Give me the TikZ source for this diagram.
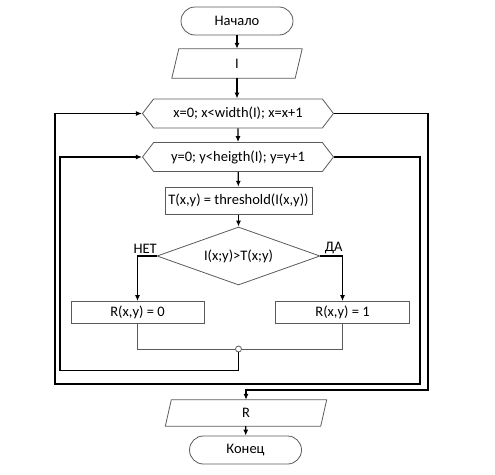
\documentclass[tikz,border=0pt]{standalone}
\usepackage{fontspec}
\setmainfont{Carlito}
\usetikzlibrary{arrows.meta,positioning,shapes.geometric,shapes.symbols}
\definecolor{frame}{RGB}{90,90,90}

\begin{document}
\begin{tikzpicture}[x=1pt,y=-1pt,>={Latex[length=6pt,width=5pt]},
  every node/.style={font=\fontsize{14.5}{17}\selectfont,inner sep=1pt},
  outline/.style={draw=frame,line width=0.8pt},
  term/.style={outline,rounded corners=14pt,minimum width=112pt,minimum height=28pt},
  io/.style={rectangle,minimum width=123pt,minimum height=29pt},
  hexloop/.style={outline,signal,signal to=west and east,signal pointer angle=105,
    minimum width=191pt,minimum height=29pt},
  proc/.style={outline,rectangle,minimum height=22pt},
  cond/.style={outline,diamond,aspect=2.8,inner sep=0pt,minimum width=163pt,minimum height=58pt},
  line/.style={draw,line width=1.3pt},
  joint/.style={draw=frame,line width=0.8pt}]
\useasboundingbox (0,0) rectangle (495,474);

\node[term] (start) at (237,21) {Начало};
\node[io] (inp) at (237,63.5) {I};
\node[hexloop] (xloop) at (238,113.5) {x=0; x<width(I); x=x+1};
\node[hexloop] (yloop) at (238,157) {y=0; y<heigth(I); y=y+1};
\node[proc,minimum width=147pt,minimum height=27pt] (calc) at (238.5,200.7) {T(x,y) = threshold(I(x,y))};
\node[cond] (test) at (238.5,256) {I(x;y)>T(x;y)};
\node[proc,minimum width=133pt] (zero) at (137.5,312.5) {R(x,y) = 0};
\node[proc,minimum width=134pt] (one) at (342.5,312.5) {R(x,y) = 1};
\node[circle,draw=frame,fill=white,line width=0.8pt,minimum size=6pt,inner sep=0pt] (merge) at (238.5,349) {};
\node[io,minimum width=155pt,minimum height=26pt] (outp) at (246,413) {R};
\node[term] (stop) at (245.5,450) {Конец};

% parallelogram outlines
\draw[outline] ([xshift=-3.5pt]inp.south west) -- ([xshift=3.5pt]inp.north west)
  -- ([xshift=3.5pt]inp.north east) -- ([xshift=-3.5pt]inp.south east) -- cycle;
\draw[outline] ([xshift=-3pt]outp.south west) -- ([xshift=3pt]outp.north west)
  -- ([xshift=3pt]outp.north east) -- ([xshift=-3pt]outp.south east) -- cycle;

\coordinate (inl) at (60,370.7);
\coordinate (outr) at (420,384);
\coordinate (outl) at (55,384);
\coordinate (exit) at (428,390);

\draw[line,->] (start) -- (inp);
\draw[line,->] (inp) -- (inp |- xloop.north);
\draw[line,->] (xloop) -- (yloop);
\draw[line,->] (yloop) -- (calc);
\draw[line,->] (calc) -- (test);
\draw[line,->] (test.west) -| node[pos=0.3,above=1pt] {НЕТ} (zero.north);
\draw[line,->] (test.east) -| node[pos=0.3,above=1pt] {ДА} (one.north);
\draw[joint] (zero.south) |- (merge.west);
\draw[joint] (one.south) |- (merge.east);
\draw[line,->] (merge.south) |- (inl) |- (yloop.west);
\draw[line,->] (yloop.east) -| (outr) -- (outl) |- (xloop.west);
\draw[line,->] (xloop.east) -| (exit) -| (outp.north);
\draw[line,->] (outp) -- (stop);
\end{tikzpicture}
\end{document}
